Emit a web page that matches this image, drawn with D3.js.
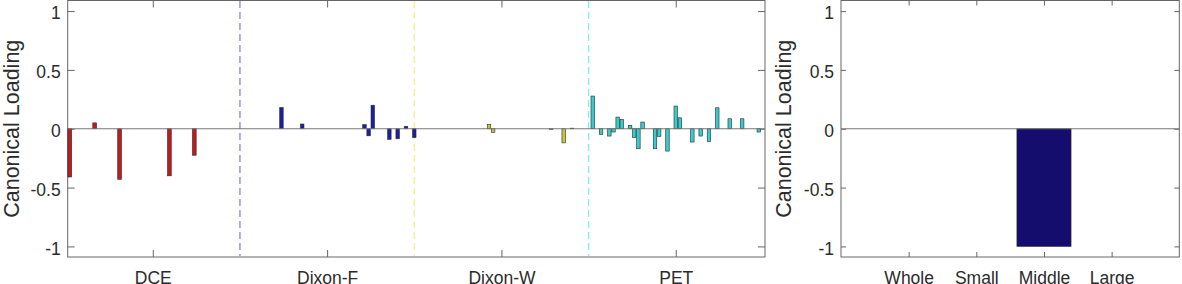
<!DOCTYPE html>
<html>
<head>
<meta charset="utf-8">
<script src="https://cdn.jsdelivr.net/npm/d3@7"></script>
<style>
  body { margin: 0; background: #fff; }
  #container { width: 1182px; height: 284px; }
  text { font-family: "Liberation Sans", Arial, sans-serif; fill: #2b2b2b; }
</style>
</head>
<body>
<div id="container"></div>
<script>
// modality groups on the left panel
const sections = ["DCE", "Dixon-F", "Dixon-W", "PET"];
const sectionTicks = [21, 63, 105, 147];
const sectionBreaks = [42, 84, 126];

// feature index and canonical loading for each group
const dceIndex = [1, 7, 13, 19, 25, 31, 37];
const dceValues = [-0.41, 0.05, -0.43, 0, -0.40, -0.225, 0];

const dixonFIndex = [52, 57, 72, 73, 74, 78, 80, 82, 84];
const dixonFValues = [0.18, 0.04, 0.035, -0.06, 0.2, -0.09, -0.085, 0.02, -0.075];

const dixonWIndex = [102, 103, 117, 120, 122];
const dixonWValues = [0.035, -0.03, -0.005, -0.12, 0.005];

const petIndex = [127, 129, 131, 132, 133, 134, 136, 137, 138, 139, 142, 143, 145, 147, 148, 151, 153, 155, 157, 160, 163, 167];
const petValues = [0.278, -0.048, -0.062, -0.028, 0.099, 0.079, 0.028, -0.076, -0.17, 0.057, -0.17, -0.065, -0.19, 0.193, 0.093, -0.113, -0.062, -0.108, 0.178, 0.085, 0.085, -0.028];

// right panel: vessel size
const sizes = ["Whole", "Small", "Middle", "Large"];
const sizeValues = [0, 0, -1, 0];

const yTicks = [-1, -0.5, 0, 0.5, 1];
const yTickLabels = ["-1", "-0.5", "0", "0.5", "1"];

class Chart {

    constructor(opts)
    {
        this.element = opts.element;
        this.svg = d3.select(this.element)
            .append("svg")
            .attr("width", 1182)
            .attr("height", 284);

        //shared vertical scale
        this.y = d3.scaleLinear().domain([-1.09, 1.09]).range([257, 0.5]);

        this.drawLeft();
        this.drawRight();
    }

    //box, mirrored ticks and labels of one axes
    drawFrame(x, x0, x1, tickVals, tickFmt, tickLen, labelX)
    {
        var y = this.y;
        var g = this.svg.append("g");

        var left = g.append("g").attr("transform", "translate(" + x0 + ",0)")
            .call(d3.axisLeft(y).tickValues(yTicks).tickFormat((d, i) => yTickLabels[i])
                .tickSizeInner(-tickLen).tickSizeOuter(0).tickPadding(7));
        var right = g.append("g").attr("transform", "translate(" + x1 + ",0)")
            .call(d3.axisRight(y).tickValues(yTicks).tickFormat("")
                .tickSizeInner(-tickLen).tickSizeOuter(0));
        var bottom = g.append("g").attr("transform", "translate(0,257)")
            .call(d3.axisBottom(x).tickValues(tickVals).tickFormat(tickFmt)
                .tickSizeInner(-tickLen).tickSizeOuter(0).tickPadding(14.5));
        var top = g.append("g").attr("transform", "translate(0,0.5)")
            .call(d3.axisTop(x).tickValues(tickVals).tickFormat("")
                .tickSizeInner(-tickLen).tickSizeOuter(0));

        g.selectAll(".domain").remove();
        g.selectAll(".tick line").attr("stroke", "#666");
        g.selectAll(".tick text").attr("font-size", "17.5px").attr("fill", "#2b2b2b");
        left.selectAll("text").attr("dy", "0.45em");

        //box
        g.append("rect")
            .attr("x", x0).attr("y", 0.5)
            .attr("width", x1 - x0).attr("height", 256.5)
            .attr("fill", "none")
            .style("stroke", "#666")
            .style("stroke-width", 1);

        //ylabel
        g.append("text")
            .attr("transform", "translate(" + labelX + "," + y(0) + ") rotate(-90)")
            .attr("text-anchor", "middle")
            .attr("font-size", "21.5px")
            .text("Canonical Loading");
        return g;
    }

    drawBars(g, x, idx, vals, half, fill)
    {
        var y = this.y;
        var data = idx.map((d, i) => ({ i: d, v: vals[i] })).filter(d => d.v !== 0);
        g.selectAll(null).data(data).enter().append("rect")
            .attr("x", d => x(d.i - half))
            .attr("width", d => x(d.i + half) - x(d.i - half))
            .attr("y", d => y(Math.max(0, d.v)))
            .attr("height", d => Math.abs(y(d.v) - y(0)))
            .attr("fill", fill)
            .style("stroke", "#2a2a2a")
            .style("stroke-width", 0.6);
    }

    drawLeft()
    {
        var x0 = 67.7, x1 = 765;
        var x = d3.scaleLinear().domain([0.5, 168.5]).range([x0, x1]);
        var y = this.y;
        var frame = this.drawFrame(x, x0, x1, sectionTicks, (d, i) => sections[i], 7, 19);

        var g = this.svg.append("g");

        //dashed separators between modalities
        var breakColors = ["#8585d6", "#f2f28a", "#86ece6"];
        g.selectAll(null).data(sectionBreaks).enter().append("line")
            .attr("x1", d => x(d)).attr("x2", d => x(d))
            .attr("y1", 1).attr("y2", 256)
            .style("stroke", (d, i) => breakColors[i])
            .style("stroke-width", 1.3)
            .style("stroke-dasharray", "7,4");

        this.drawBars(g, x, dceIndex, dceValues, 0.45, "#c01a1c");
        this.drawBars(g, x, dixonFIndex, dixonFValues, 0.42, "#1c1ca6");
        this.drawBars(g, x, dixonWIndex, dixonWValues, 0.42, "#c6c63a");
        this.drawBars(g, x, petIndex, petValues, 0.42, "#34cccc");

        //baseline
        g.append("line")
            .attr("x1", x0).attr("x2", x1)
            .attr("y1", y(0)).attr("y2", y(0))
            .style("stroke", "#777").style("stroke-width", 1.2);
    }

    drawRight()
    {
        var x0 = 841, x1 = 1179.3;
        var x = d3.scaleLinear().domain([0, 5]).range([x0, x1]);
        var y = this.y;
        this.drawFrame(x, x0, x1, [1, 2, 3, 4], (d, i) => sizes[i], 5, 790.5);

        var g = this.svg.append("g");
        this.drawBars(g, x, [1, 2, 3, 4], sizeValues, 0.4, "#150d6e");

        g.append("line")
            .attr("x1", x0).attr("x2", x1)
            .attr("y1", y(0)).attr("y2", y(0))
            .style("stroke", "#777").style("stroke-width", 1.2);
    }
}

new Chart({ element: "#container" });
</script>
</body>
</html>
